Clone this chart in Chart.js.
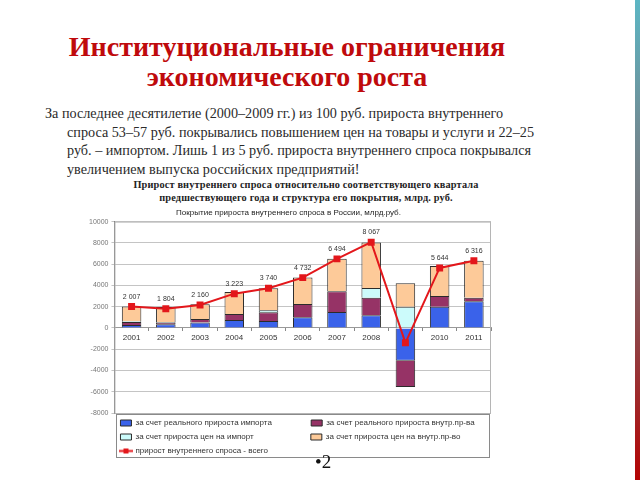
<!DOCTYPE html>
<html>
<head>
<meta charset="utf-8">
<script src="https://cdn.jsdelivr.net/npm/chart.js@4.4.1/dist/chart.umd.min.js"></script>
<style>
  html, body { margin:0; padding:0; background:#fff; }
  body { width:640px; height:480px; position:relative; overflow:hidden; }
  .title { position:absolute; left:0; top:32px; width:574px; text-align:center;
    font-family:"Liberation Serif", "Times New Roman", serif; font-weight:bold; font-size:28px; line-height:30px; color:#bf0a0c; }
  .para { position:absolute; left:45px; top:104px; font-family:"Liberation Serif", "Times New Roman", serif;
    font-size:14.2px; line-height:18.5px; color:#2a2a2a; white-space:nowrap; }
  .para .ind { padding-left:22px; }
  .chead { position:absolute; left:0; top:178px; width:612px; text-align:center;
    font-family:"Liberation Serif", "Times New Roman", serif; font-weight:bold; font-size:10.3px; line-height:13px; color:#222; letter-spacing:0.15px; }
  .pnum { position:absolute; left:315px; top:451px; font-family:"Liberation Serif", serif; font-size:19px; color:#111; }
  .bar { position:absolute; left:635px; top:0; width:5px; height:480px;
    background:linear-gradient(to bottom, #5cb6c4 0%, #6f8f98 25%, #7a6f72 50%, #95393b 75%, #b40404 100%); }
  #wrap { position:absolute; left:70px; top:204px; width:436px; height:261px; }
</style>
</head>
<body>
<div class="title">Институциональные ограничения<br>экономического роста</div>
<div class="para">За последнее десятилетие (2000–2009 гг.) из 100 руб. прироста внутреннего<br><span class="ind">спроса 53–57 руб. покрывались повышением цен на товары и услуги и 22–25</span><br><span class="ind">руб. – импортом. Лишь 1 из 5 руб. прироста внутреннего спроса покрывался</span><br><span class="ind">увеличением выпуска российских предприятий!</span></div>
<div class="chead">Прирост внутреннего спроса относительно соответствующего квартала<br>предшествующего года и структура его покрытия, млрд. руб.</div>
<div id="wrap"><canvas id="c" width="436" height="261"></canvas></div>
<div class="pnum">•2</div>
<div class="bar"></div>
<script>
const categories = ['2001','2002','2003','2004','2005','2006','2007','2008','2009','2010','2011'];
const realImport     = [280, 350, 500, 750, 660, 1000, 1500, 1200, -3080, 2000, 2500];
const realDomestic   = [280, 130, 350, 550, 820, 1260, 1950, 1640, -2480, 1000, 350];
const importPrices   = [80, 80, 0, 0, 190, 0, 0, 910, 2000, 0, 0];
const domesticPrices = [1367, 1420, 1380, 2075, 2070, 2480, 3050, 4280, 2200, 2830, 3460];
const totalGrowth    = [2007, 1804, 2160, 3223, 3740, 4732, 6494, 8067, -1400, 5644, 6316];
const valueLabels    = ['2 007','1 804','2 160','3 223','3 740','4 732','6 494','8 067', null, '5 644','6 316'];
const seriesNames = [
  'за счет реального прироста импорта',
  'за счет реального прироста внутр.пр-ва',
  'за счет прироста цен на импорт',
  'за счет прироста цен на внутр.пр-во',
  'прирост внутреннего спроса - всего'
];
const chartSubtitle = 'Покрытие прироста внутреннего спроса в России, млрд.руб.';

const FONT = '"Liberation Sans", Arial, sans-serif';
const mctx = document.createElement('canvas').getContext('2d');
mctx.font = '8px ' + FONT;
function padTo(t, w) { while (mctx.measureText(t).width < w) t += ' '; return t; }

// legend icon for the line series
const lineIcon = document.createElement('canvas');
lineIcon.width = 14; lineIcon.height = 7;
(function(){
  const g = lineIcon.getContext('2d');
  g.strokeStyle = '#e3171b'; g.lineWidth = 2;
  g.beginPath(); g.moveTo(0, 3.5); g.lineTo(14, 3.5); g.stroke();
  g.fillStyle = '#e3171b'; g.fillRect(4.5, 1, 5, 5);
})();

const extras = {
  id: 'extras',
  beforeDatasetsDraw(chart) {
    const a = chart.chartArea, ctx = chart.ctx;
    ctx.save();
    ctx.strokeStyle = '#b5b5b5'; ctx.lineWidth = 1;
    ctx.strokeRect(a.left + 0.5, a.top + 0.5, a.right - a.left - 1, a.bottom - a.top);
    ctx.restore();
  },
  afterDatasetsDraw(chart) {
    const ctx = chart.ctx;
    const meta = chart.getDatasetMeta(4);
    ctx.save();
    ctx.font = '7px ' + FONT;
    ctx.fillStyle = '#333';
    ctx.textAlign = 'center'; ctx.textBaseline = 'middle';
    meta.data.forEach((pt, i) => {
      if (valueLabels[i]) ctx.fillText(valueLabels[i], pt.x, pt.y - 10);
    });
    ctx.restore();
  },
  afterDraw(chart) {
    const l = chart.legend, ctx = chart.ctx;
    ctx.save();
    ctx.strokeStyle = '#8a8a8a'; ctx.lineWidth = 1;
    ctx.strokeRect(Math.round(l.left) + 2.5, Math.round(l.top) + 1.5, Math.round(l.width) - 4, Math.round(l.height) - 9);
    ctx.restore();
  }
};

const barCommon = { borderColor: '#2b2b2b', borderWidth: 1, barPercentage: 0.57, categoryPercentage: 1, order: 2, stack: 's' };

new Chart(document.getElementById('c'), {
  type: 'bar',
  data: {
    labels: categories,
    datasets: [
      Object.assign({ label: seriesNames[0], data: realImport, backgroundColor: '#3a62ea' }, barCommon),
      Object.assign({ label: seriesNames[1], data: realDomestic, backgroundColor: '#963366' }, barCommon),
      Object.assign({ label: seriesNames[2], data: importPrices, backgroundColor: '#ccfbfb' }, barCommon),
      Object.assign({ label: seriesNames[3], data: domesticPrices, backgroundColor: '#fdca99' }, barCommon),
      { type: 'line', label: seriesNames[4], data: totalGrowth, borderColor: '#e3171b', backgroundColor: '#e3171b',
        borderWidth: 2, pointStyle: 'rect', pointRadius: 3.5, pointBackgroundColor: '#e3171b', pointBorderColor: '#e3171b',
        tension: 0, order: 0 }
    ]
  },
  options: {
    responsive: false,
    animation: false,
    layout: { padding: { left: 16, right: 15, top: 0, bottom: 0 } },
    plugins: {
      tooltip: { enabled: false },
      title: { display: true, text: chartSubtitle, font: { family: FONT, size: 8, weight: 'normal' }, color: '#222',
        padding: { top: 4, bottom: 4 } },
      legend: {
        position: 'bottom', align: 'start', fullSize: false,
        labels: {
          font: { family: FONT, size: 8 }, color: '#333', padding: 6,
          usePointStyle: true, pointStyleWidth: 11, boxHeight: 6,
          sort: (a, b) => a.datasetIndex - b.datasetIndex,
          generateLabels(chart) {
            const items = Chart.defaults.plugins.legend.labels.generateLabels(chart);
            items.forEach((it) => {
              const i = it.datasetIndex;
              if (i === 4) { it.pointStyle = lineIcon; }
              else { it.pointStyle = 'rect'; it.lineWidth = 1; it.strokeStyle = '#2b2b2b'; }
              if (i === 0 || i === 2) it.text = padTo(it.text, 168);
            });
            return items;
          }
        }
      }
    },
    scales: {
      x: {
        position: { y: 0 },
        stacked: true,
        grid: { display: true, drawOnChartArea: false, drawTicks: true, tickLength: 3, color: '#888', offset: true },
        border: { display: true, color: '#999' },
        ticks: { font: { family: FONT, size: 8 }, color: '#333', padding: 2, autoSkip: false, maxRotation: 0 }
      },
      y: {
        stacked: true,
        min: -8000, max: 10000,
        grid: { color: '#c4c4c4', tickLength: 3, drawTicks: true },
        border: { display: true, color: '#777' },
        ticks: { stepSize: 2000, font: { family: FONT, size: 7 }, color: '#777', padding: 3,
          callback: v => String(v) }
      }
    }
  },
  plugins: [extras]
});
</script>
</body>
</html>
